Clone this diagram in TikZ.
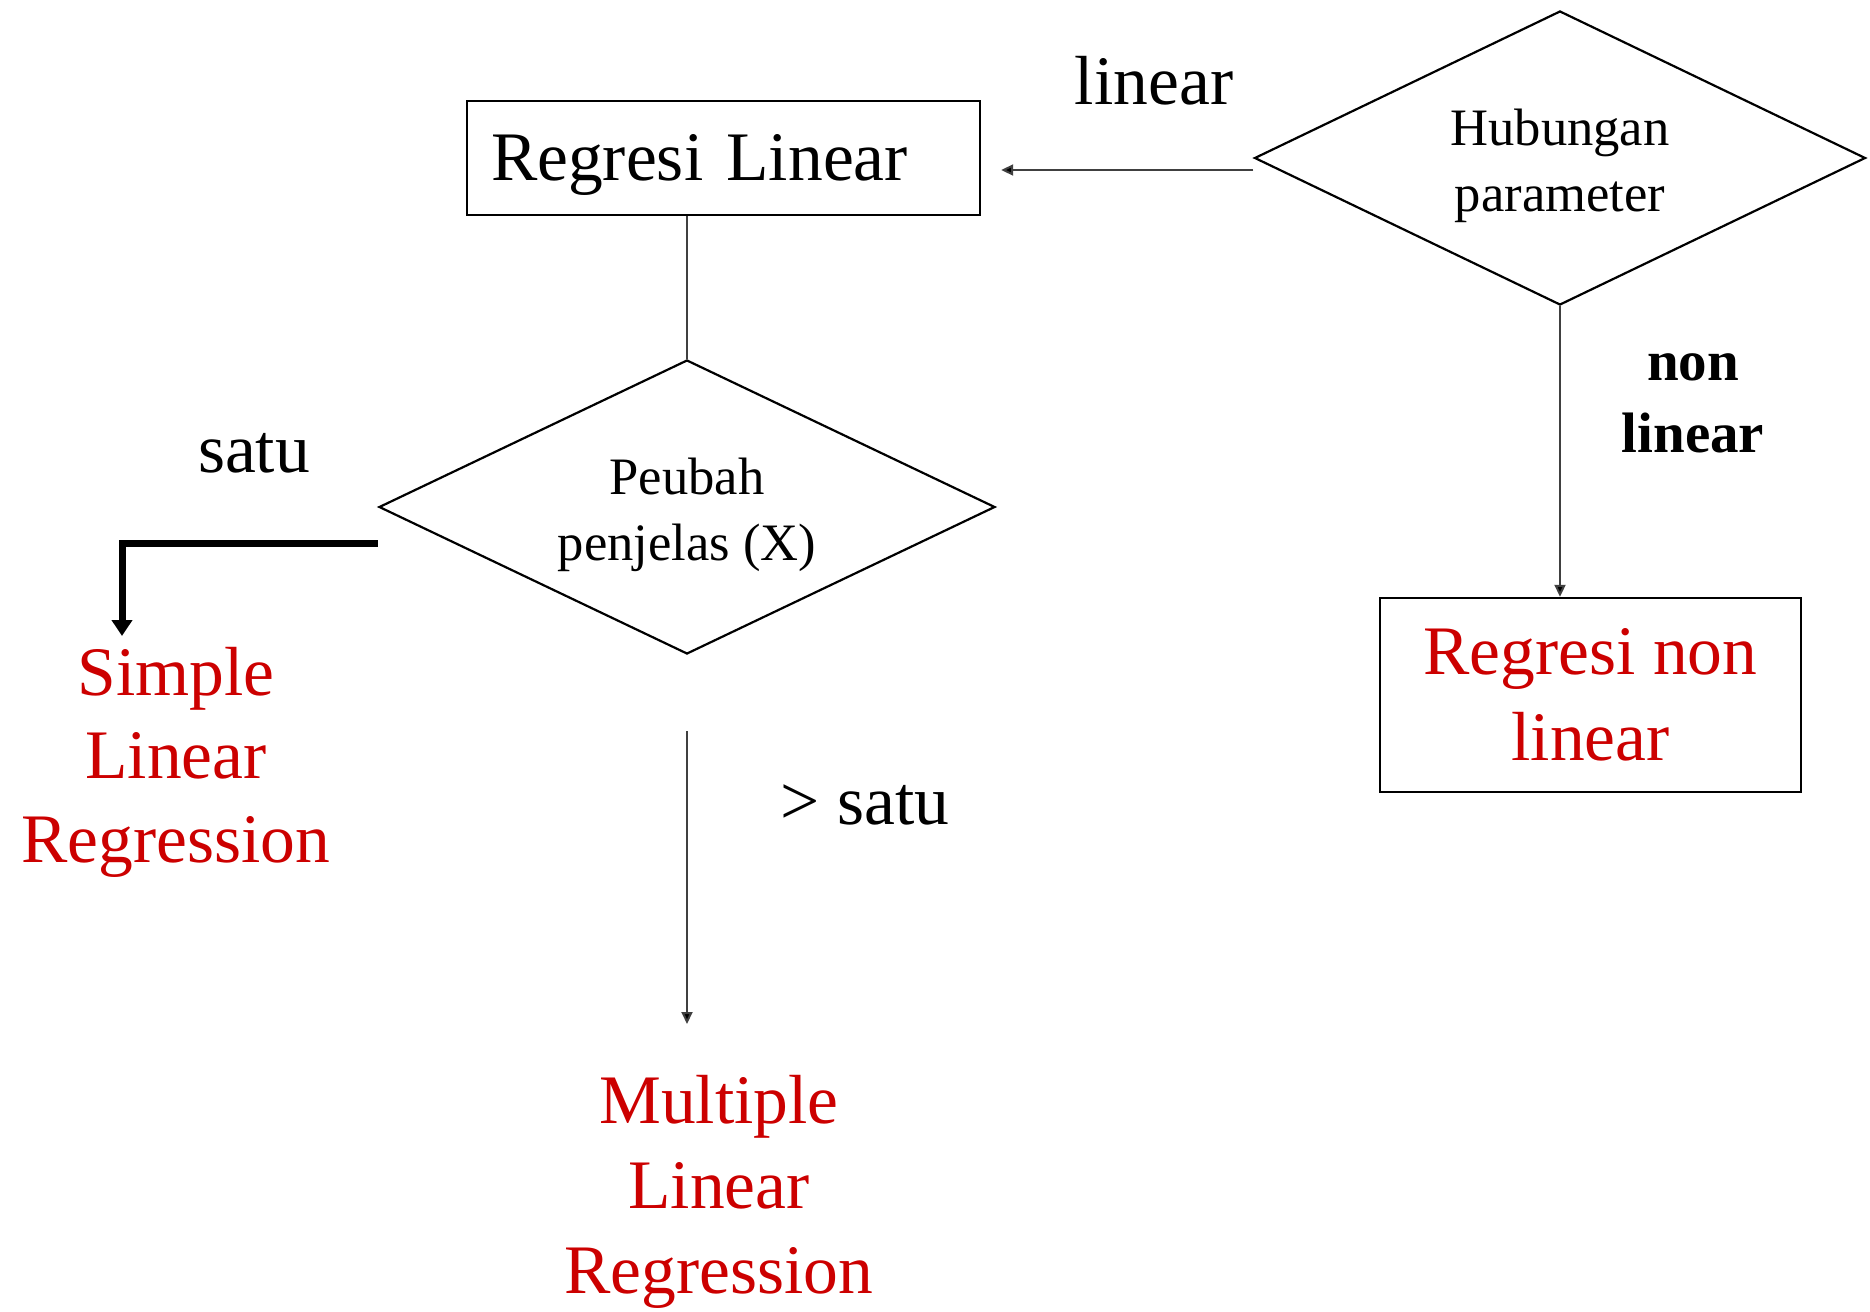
\documentclass[tikz,border=0pt]{standalone}
\usepackage{fontspec}
\setmainfont{Liberation Serif}
\usetikzlibrary{shapes.geometric,arrows.meta}
\definecolor{tred}{RGB}{204,0,0}
\newcommand\lowertxt[2]{\raisebox{-#1}[\height][\depth]{#2}}
\tikzset{
  box/.style={draw=black, line width=1.2pt, inner sep=0pt},
  dia/.style={diamond, draw=black, line width=1.1pt, inner sep=0pt, shape aspect=2, align=center,
              font=\fontsize{26.3}{33}\selectfont},
  big/.style={font=\fontsize{34.75}{41.7}\selectfont, align=center, inner sep=0pt},
  redtxt/.style={big, text=tred},
  bold/.style={font=\fontsize{28.5}{36}\selectfont\bfseries, align=center, inner sep=0pt},
  arr/.style={draw=black!75, line width=1pt, -{Triangle[length=6pt,width=5.5pt,fill=black]}},
  line/.style={draw=black!75, line width=1pt},
  thick arr/.style={draw=black, line width=3.5pt, -{Triangle[length=8pt,width=10pt]}}
}
\begin{document}
\begin{tikzpicture}[x=0.5pt,y=-0.5pt]
\useasboundingbox (0,0) rectangle (1870,1312);
% nodes
\node[box, big, minimum width=256.5pt, minimum height=57pt, text width=232.5pt, align=left, inner xsep=12pt] (RL) at (723.5,158) {\lowertxt{3.5pt}{Regresi Linear}};
\node[dia, minimum width=305.5pt, minimum height=147pt] (Hub) at (1560,158)
  {\lowertxt{3.5pt}{\begin{tabular}{@{}c@{}}Hubungan\\parameter\end{tabular}}};
\node[dia, minimum width=308pt, minimum height=147pt] (Peu) at (687,507)
  {\lowertxt{3.5pt}{\begin{tabular}{@{}c@{}}Peubah\\penjelas (X)\end{tabular}}};
\node[box, redtxt, minimum width=210.5pt, minimum height=97pt, font=\fontsize{34.75}{43}\selectfont] (RNL) at (1590.5,695) {Regresi non\\linear};
\node[redtxt] (SLR) at (176,762) {Simple\\Linear\\Regression};
\node[redtxt, font=\fontsize{34.75}{42.5}\selectfont] (MLR) at (719,1192) {Multiple\\Linear\\Regression};
% labels
\node[big] (lLin) at (1154,81) {linear};
\node[bold] (lNon) at (1693,403) {non\\linear};
\node[big] (lSatu) at (254,453) {satu};
\node[big] (lGt) at (865,805) {> satu};
% coordinates
\coordinate (sTip) at (122,636);
\coordinate (mEnd) at (687,1024);
% connectors
\draw[arr, shorten >=10pt] ([yshift=-6pt]Hub.west) -- ([yshift=-6pt]RL.east);
\draw[arr] (Hub.south) -- (Hub.south |- RNL.north);
\draw[line] (Peu.north |- RL.south) -- (Peu.north);
\draw[thick arr] ([yshift=-18pt]Peu.west) -| (sTip);
\draw[arr] ([yshift=-38pt]Peu.south) -- (mEnd);
\end{tikzpicture}
\end{document}
